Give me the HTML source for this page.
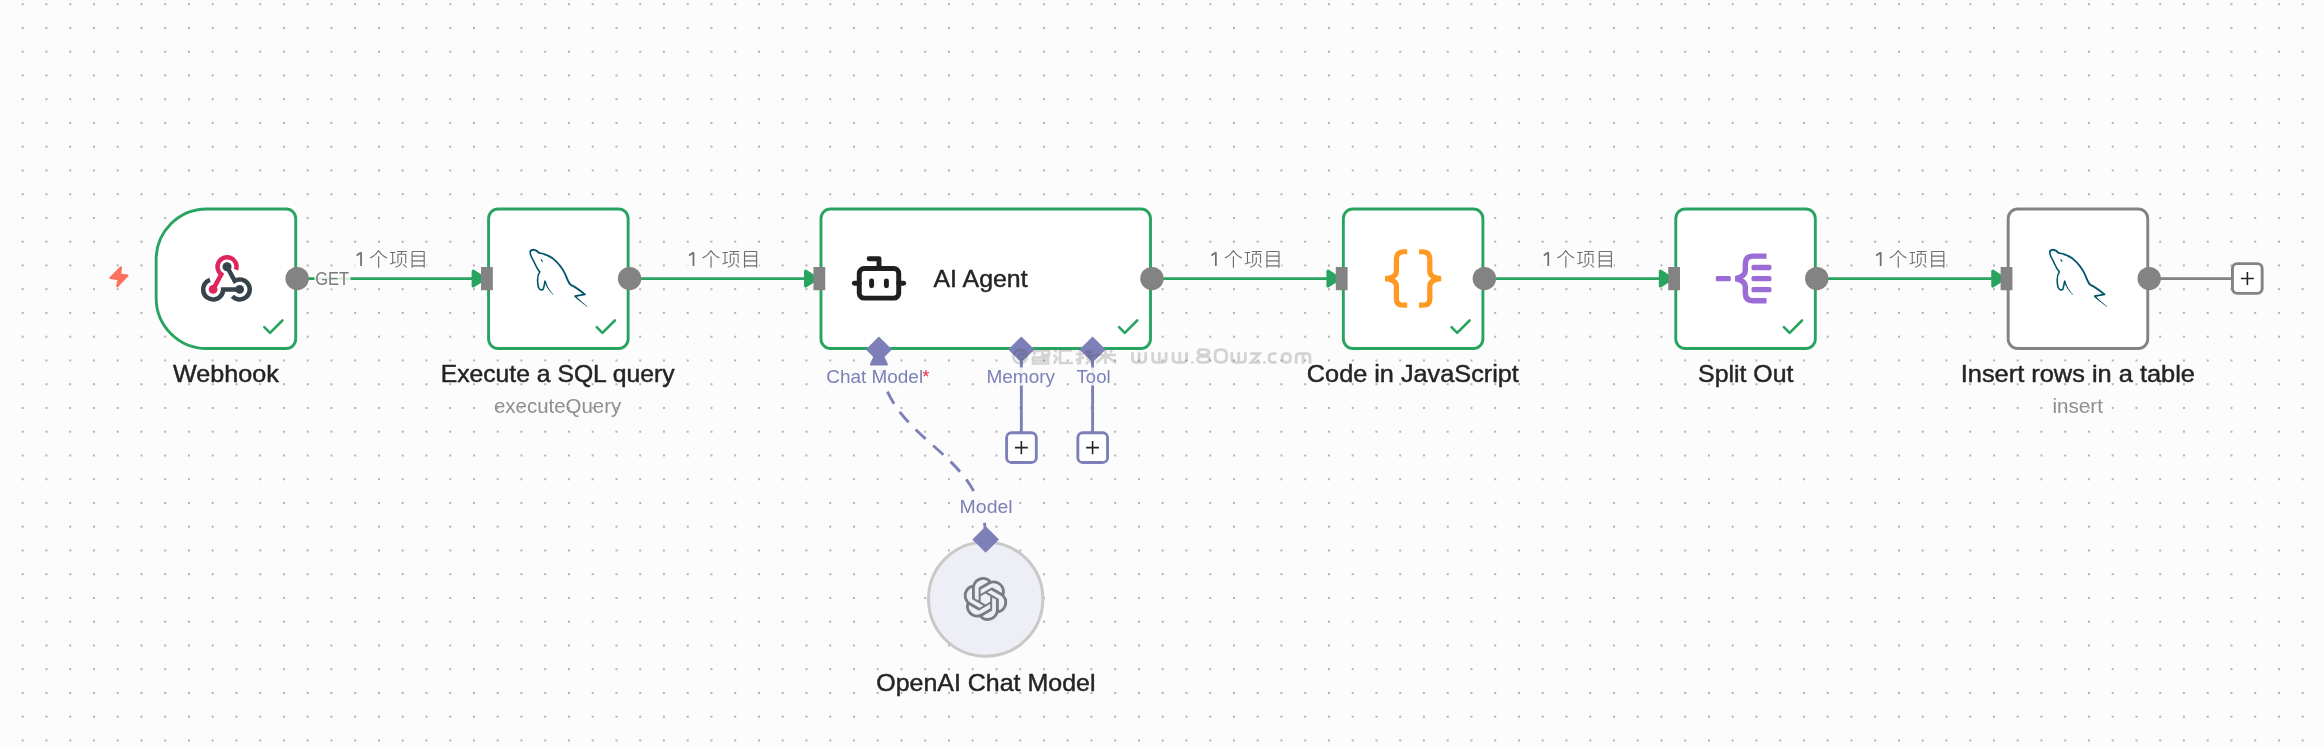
<!DOCTYPE html>
<html><head><meta charset="utf-8"><style>
html,body{margin:0;padding:0;background:#fcfcfc;width:2324px;height:746px;overflow:hidden}
svg text{font-family:"Liberation Sans",sans-serif;opacity:0.999}
</style></head><body>
<svg xmlns="http://www.w3.org/2000/svg" width="2324" height="746" viewBox="0 0 2324 746" style="position:absolute;left:0;top:0;will-change:transform;font-family:'Liberation Sans',sans-serif">
<defs>
<pattern id="dots" x="10.825" y="-7.675" width="23.75" height="23.75" patternUnits="userSpaceOnUse">
<circle cx="11.875" cy="11.875" r="1.0" fill="#999999"/>
</pattern>
</defs>
<rect x="0" y="0" width="2324" height="746" fill="url(#dots)"/>
<line x1="297.16" y1="278.6" x2="475.12" y2="278.6" stroke="#29a360" stroke-width="2.8"/>
<path d="M473.22,271.20 L484.62,278.6 L473.22,286.00 Z" fill="#29a360" stroke="#29a360" stroke-width="3.2" stroke-linejoin="round"/>
<line x1="629.58" y1="278.6" x2="807.53" y2="278.6" stroke="#29a360" stroke-width="2.8"/>
<path d="M805.63,271.20 L817.03,278.6 L805.63,286.00 Z" fill="#29a360" stroke="#29a360" stroke-width="3.2" stroke-linejoin="round"/>
<line x1="1151.95" y1="278.6" x2="1329.90" y2="278.6" stroke="#29a360" stroke-width="2.8"/>
<path d="M1328.00,271.20 L1339.40,278.6 L1328.00,286.00 Z" fill="#29a360" stroke="#29a360" stroke-width="3.2" stroke-linejoin="round"/>
<line x1="1484.36" y1="278.6" x2="1662.32" y2="278.6" stroke="#29a360" stroke-width="2.8"/>
<path d="M1660.42,271.20 L1671.82,278.6 L1660.42,286.00 Z" fill="#29a360" stroke="#29a360" stroke-width="3.2" stroke-linejoin="round"/>
<line x1="1816.78" y1="278.6" x2="1994.73" y2="278.6" stroke="#29a360" stroke-width="2.8"/>
<path d="M1992.83,271.20 L2004.23,278.6 L1992.83,286.00 Z" fill="#29a360" stroke="#29a360" stroke-width="3.2" stroke-linejoin="round"/>
<line x1="2149.20" y1="278.6" x2="2232" y2="278.6" stroke="#838383" stroke-width="2.8"/>
<rect x="2232.45" y="263.65" width="29.70" height="29.70" rx="4.8" fill="#fff" stroke="#838383" stroke-width="2.9"/>
<path d="M2240.90,278.50 H2253.90 M2247.4,272.00 V285.00" stroke="#242424" stroke-width="1.6"/>
<path d="M206.70,208.95 H286.16 A9.55,9.55 0 0 1 295.71,218.50 V339.00 A9.55,9.55 0 0 1 286.16,348.55 H206.70 A50.55,50.55 0 0 1 156.15,298.00 V259.50 A50.55,50.55 0 0 1 206.70,208.95 Z" fill="#fff" stroke="#29a360" stroke-width="2.9"/>
<rect x="488.57" y="208.95" width="139.56" height="139.60" rx="9.55" fill="#fff" stroke="#29a360" stroke-width="2.9"/>
<rect x="820.98" y="208.95" width="329.52" height="139.60" rx="9.55" fill="#fff" stroke="#29a360" stroke-width="2.9"/>
<rect x="1343.35" y="208.95" width="139.56" height="139.60" rx="9.55" fill="#fff" stroke="#29a360" stroke-width="2.9"/>
<rect x="1675.77" y="208.95" width="139.56" height="139.60" rx="9.55" fill="#fff" stroke="#29a360" stroke-width="2.9"/>
<rect x="2008.18" y="208.95" width="139.56" height="139.60" rx="9.55" fill="#fff" stroke="#838383" stroke-width="2.9"/>
<path d="M264.30,327.2 L270.00,332.9 L282.40,320.5" fill="none" stroke="#29a360" stroke-width="2.6" stroke-linecap="round" stroke-linejoin="round"/>
<path d="M596.72,327.2 L602.42,332.9 L614.82,320.5" fill="none" stroke="#29a360" stroke-width="2.6" stroke-linecap="round" stroke-linejoin="round"/>
<path d="M1119.09,327.2 L1124.79,332.9 L1137.19,320.5" fill="none" stroke="#29a360" stroke-width="2.6" stroke-linecap="round" stroke-linejoin="round"/>
<path d="M1451.50,327.2 L1457.20,332.9 L1469.60,320.5" fill="none" stroke="#29a360" stroke-width="2.6" stroke-linecap="round" stroke-linejoin="round"/>
<path d="M1783.92,327.2 L1789.62,332.9 L1802.02,320.5" fill="none" stroke="#29a360" stroke-width="2.6" stroke-linecap="round" stroke-linejoin="round"/>
<circle cx="297.16" cy="278.6" r="11.7" fill="#838383"/>
<circle cx="629.58" cy="278.6" r="11.7" fill="#838383"/>
<circle cx="1151.95" cy="278.6" r="11.7" fill="#838383"/>
<circle cx="1484.36" cy="278.6" r="11.7" fill="#838383"/>
<circle cx="1816.78" cy="278.6" r="11.7" fill="#838383"/>
<circle cx="2149.20" cy="278.6" r="11.7" fill="#838383"/>
<rect x="481.02" y="267.00" width="11.8" height="23.2" fill="#838383"/>
<rect x="813.43" y="267.00" width="11.8" height="23.2" fill="#838383"/>
<rect x="1335.80" y="267.00" width="11.8" height="23.2" fill="#838383"/>
<rect x="1668.22" y="267.00" width="11.8" height="23.2" fill="#838383"/>
<rect x="2000.63" y="267.00" width="11.8" height="23.2" fill="#838383"/>
<g transform="translate(350.00,244)"><g id="lbl">
<rect x="4.5" y="4.8" width="72" height="19.6" fill="#fcfcfc" fill-opacity="0.9"/>
<path d="M6.6,11.5 L11.0,8.5 M11.05,8.3 V21.9" fill="none" stroke="#6f6f6f" stroke-width="1.75"/>
<path d="M28.55,6.5 Q25.5,11.6 20.2,13.9 M28.55,6.5 Q31.6,11.6 36.9,13.9 M28.63,12.2 V23.8" fill="none" stroke="#6f6f6f" stroke-width="1.15"/>
<path d="M40.0,8.5 H45.4 M42.66,8.5 V19.3 M40.0,20.0 L45.7,18.3 M47.0,7.45 H56.9 M51.8,7.5 L51.1,10.1 M47.9,10.1 V19.3 M55.7,10.1 V19.3 M47.9,10.3 H55.7 M51.5,13.3 V18.2 Q50.6,21.9 45.4,23.3 M53.3,20.3 L56.7,23.3" fill="none" stroke="#6f6f6f" stroke-width="1.1"/>
<path d="M62.1,7.4 V23.8 M74.2,7.4 V23.8 M62.1,7.45 H74.2 M62.1,12.06 H74.2 M62.1,16.9 H74.2 M62.1,21.9 H74.2" fill="none" stroke="#6f6f6f" stroke-width="1.15"/>
</g></g>
<use href="#lbl" transform="translate(682.42,244)"/>
<use href="#lbl" transform="translate(1204.79,244)"/>
<use href="#lbl" transform="translate(1537.20,244)"/>
<use href="#lbl" transform="translate(1869.62,244)"/>
<rect x="314.5" y="268.5" width="36" height="20" fill="#fcfcfc" fill-opacity="0.85"/>
<path d="M985.7,540.0 C985.7,444.75 878.89,444.75 878.89,349.5" fill="none" stroke="#7d80b8" stroke-width="2.9" stroke-dasharray="13.8 9.95" stroke-dashoffset="-3.4"/>
<path d="M870.89,364.5 L878.89,347 L886.89,364.5 Z" fill="#7d80b8" stroke="#7d80b8" stroke-width="2" stroke-linejoin="round"/>
<line x1="1021.36" y1="349.5" x2="1021.36" y2="433" stroke="#7d80b8" stroke-width="2.9"/>
<rect x="1006.61" y="432.75" width="29.70" height="29.70" rx="4.8" fill="#fff" stroke="#7d80b8" stroke-width="2.9"/>
<path d="M1014.96,447.6 H1027.76 M1021.36,441.1 V454.2" stroke="#242424" stroke-width="1.6"/>
<line x1="1092.59" y1="349.5" x2="1092.59" y2="433" stroke="#7d80b8" stroke-width="2.9"/>
<rect x="1077.84" y="432.75" width="29.70" height="29.70" rx="4.8" fill="#fff" stroke="#7d80b8" stroke-width="2.9"/>
<path d="M1086.19,447.6 H1098.99 M1092.59,441.1 V454.2" stroke="#242424" stroke-width="1.6"/>
<rect x="825" y="367.5" width="107" height="18" fill="#fcfcfc" fill-opacity="0.88"/>
<rect x="985.5" y="367.5" width="72" height="18" fill="#fcfcfc" fill-opacity="0.88"/>
<rect x="1074.5" y="367.5" width="37" height="18" fill="#fcfcfc" fill-opacity="0.88"/>
<rect x="958.5" y="497" width="55" height="19.5" fill="#fcfcfc" fill-opacity="0.9"/>
<path d="M878.89,336.40 L891.99,349.50 L878.89,362.60 L865.79,349.50 Z" fill="#7d80b8"/>
<path d="M1021.36,336.40 L1034.46,349.50 L1021.36,362.60 L1008.26,349.50 Z" fill="#7d80b8"/>
<path d="M1092.59,336.40 L1105.69,349.50 L1092.59,362.60 L1079.49,349.50 Z" fill="#7d80b8"/>
<circle cx="985.7" cy="599.1" r="57.20" fill="#eeeff6" stroke="#c9c9c9" stroke-width="3"/>
<path d="M985.70,526.20 L999.00,539.50 L985.70,552.80 L972.40,539.50 Z" fill="#7d80b8"/>
<path d="M121.0,267.4 L110.4,278.0 L118.6,279.1 L117.3,286.3 L127.5,275.5 L120.1,274.5 Z" fill="#ff705e" stroke="#ff705e" stroke-width="2.2" stroke-linejoin="round"/>
<svg x="190" y="245" width="70" height="65" viewBox="0 0 803 746" overflow="visible">
<path d="M229.5,400.6 A115,115 0 1 0 380.0,510.0 L570,510" fill="none" stroke="#36434b" stroke-width="52"/>
<path d="M425,250 L512.5,410.4 A115,115 0 1 1 485.9,588.4" fill="none" stroke="#36434b" stroke-width="52"/>
<circle cx="425" cy="250" r="52" fill="#36434b"/>
<circle cx="570" cy="510" r="50" fill="#36434b"/>
<path d="M265,510 L358.8,337.8 A110,110 0 1 1 529.6,284.0" fill="none" stroke="#e0245e" stroke-width="52"/>
<circle cx="265" cy="510" r="50" fill="#e0245e"/>
</svg>
<svg x="523.82" y="244.00" width="70" height="66" viewBox="0 0 791 746" overflow="visible">
<g fill="none" stroke="#00546b" stroke-linecap="round" stroke-linejoin="round">
<path d="M75,80 C95,55 140,62 170,100 C210,105 270,120 330,165 C390,215 440,280 470,345 C490,395 505,440 530,462 C570,480 630,520 690,570 L580,590" stroke-width="21"/>
<path d="M75,80 C62,110 85,150 110,190 C130,230 145,280 180,315 C155,350 150,420 165,490 C175,520 205,525 220,510 C230,480 232,450 240,420" stroke-width="18"/>
<path d="M196,176 L210,196" stroke-width="12"/>
</g><path d="M572.8,596.2 L579.3,602.8 L586.2,609.4 L593.7,616.1 L601.5,622.9 L609.8,629.7 L618.4,636.6 L627.3,643.6 L636.6,650.6 L646.1,657.8 L655.8,665.0 L665.6,672.3 L675.7,679.7 L685.8,687.1 L696.0,694.7 L706.2,702.3 L716.4,709.9 L719.6,706.1 L709.9,697.7 L700.2,689.4 L690.5,681.2 L680.9,673.0 L671.5,665.0 L662.2,657.0 L653.0,649.1 L644.2,641.4 L635.6,633.7 L627.3,626.2 L619.5,618.7 L612.0,611.4 L605.0,604.3 L598.5,597.3 L592.6,590.5 L587.2,583.8ZM231.4,422.6 L234.7,432.0 L238.4,441.5 L242.3,451.0 L246.6,460.4 L251.1,469.9 L256.1,479.3 L261.4,488.8 L267.2,498.2 L273.4,507.7 L280.0,517.1 L287.2,526.6 L294.8,536.0 L303.0,545.5 L311.8,554.9 L321.1,564.4 L331.1,574.0 L334.9,570.0 L325.7,560.1 L317.0,550.2 L309.0,540.4 L301.6,530.7 L294.8,521.0 L288.5,511.4 L282.6,501.8 L277.3,492.3 L272.5,482.8 L268.0,473.4 L263.9,464.0 L260.3,454.6 L256.9,445.3 L253.9,436.0 L251.1,426.7 L248.6,417.4Z" fill="#00546b"/></svg>
<svg x="2043.43" y="244.00" width="70" height="66" viewBox="0 0 791 746" overflow="visible">
<g fill="none" stroke="#00546b" stroke-linecap="round" stroke-linejoin="round">
<path d="M75,80 C95,55 140,62 170,100 C210,105 270,120 330,165 C390,215 440,280 470,345 C490,395 505,440 530,462 C570,480 630,520 690,570 L580,590" stroke-width="21"/>
<path d="M75,80 C62,110 85,150 110,190 C130,230 145,280 180,315 C155,350 150,420 165,490 C175,520 205,525 220,510 C230,480 232,450 240,420" stroke-width="18"/>
<path d="M196,176 L210,196" stroke-width="12"/>
</g><path d="M572.8,596.2 L579.3,602.8 L586.2,609.4 L593.7,616.1 L601.5,622.9 L609.8,629.7 L618.4,636.6 L627.3,643.6 L636.6,650.6 L646.1,657.8 L655.8,665.0 L665.6,672.3 L675.7,679.7 L685.8,687.1 L696.0,694.7 L706.2,702.3 L716.4,709.9 L719.6,706.1 L709.9,697.7 L700.2,689.4 L690.5,681.2 L680.9,673.0 L671.5,665.0 L662.2,657.0 L653.0,649.1 L644.2,641.4 L635.6,633.7 L627.3,626.2 L619.5,618.7 L612.0,611.4 L605.0,604.3 L598.5,597.3 L592.6,590.5 L587.2,583.8ZM231.4,422.6 L234.7,432.0 L238.4,441.5 L242.3,451.0 L246.6,460.4 L251.1,469.9 L256.1,479.3 L261.4,488.8 L267.2,498.2 L273.4,507.7 L280.0,517.1 L287.2,526.6 L294.8,536.0 L303.0,545.5 L311.8,554.9 L321.1,564.4 L331.1,574.0 L334.9,570.0 L325.7,560.1 L317.0,550.2 L309.0,540.4 L301.6,530.7 L294.8,521.0 L288.5,511.4 L282.6,501.8 L277.3,492.3 L272.5,482.8 L268.0,473.4 L263.9,464.0 L260.3,454.6 L256.9,445.3 L253.9,436.0 L251.1,426.7 L248.6,417.4Z" fill="#00546b"/></svg>
<svg x="849.40" y="248.80" width="59.2" height="59.2" viewBox="0 0 24 24" fill="none" stroke="#1f1f1f" stroke-width="2" stroke-linecap="round" stroke-linejoin="round">
<path d="M12 8V4H8"/><rect width="16" height="12" x="4" y="8" rx="2"/><path d="M2 14h2"/><path d="M20 14h2"/><path d="M15 13v2"/><path d="M9 13v2"/></svg>
<svg x="1379.80" y="245" width="66" height="67" viewBox="0 0 735 746" overflow="visible">
<g fill="none" stroke="#ff9922" stroke-width="58" stroke-linecap="butt" stroke-linejoin="bevel">
<path d="M305,75 H265 Q185,75 185,160 V290 C185,340 140,368 60,375 C140,382 185,410 185,460 V600 Q185,670 265,670 H305"/>
<path d="M437,75 H477 Q557,75 557,160 V290 C557,340 602,368 682,375 C602,382 557,410 557,460 V600 Q557,670 477,670 H437"/>
</g></svg>
<g transform="translate(-0.48,0)">
<rect x="1716.3" y="275.9" width="15" height="5.4" rx="1.6" fill="#9b6bd6"/>
<rect x="1752.0" y="264.8" width="19.9" height="5.4" rx="1.6" fill="#9b6bd6"/>
<rect x="1752.0" y="275.9" width="19.9" height="5.4" rx="1.6" fill="#9b6bd6"/>
<rect x="1752.0" y="286.9" width="19.9" height="5.4" rx="1.6" fill="#9b6bd6"/>
<path d="M1767,256.1 H1753.5 Q1745.8,256.1 1745.8,264 V270.5 Q1745.8,276.6 1736.0,278.6 Q1745.8,280.6 1745.8,286.7 V293 Q1745.8,300.8 1753.5,300.8 H1767" fill="none" stroke="#9b6bd6" stroke-width="5.4" stroke-linejoin="bevel"/>
</g>
<svg x="963.40" y="577.00" width="44" height="44" viewBox="0 0 24 24"><path fill="#7a7b82" d="M22.2819 9.8211a5.9847 5.9847 0 0 0-.5157-4.9108 6.0462 6.0462 0 0 0-6.5098-2.9A6.0651 6.0651 0 0 0 4.9807 4.1818a5.9847 5.9847 0 0 0-3.9977 2.9 6.0462 6.0462 0 0 0 .7427 7.0966 5.98 5.98 0 0 0 .511 4.9107 6.051 6.051 0 0 0 6.5146 2.9001A5.9847 5.9847 0 0 0 13.2599 24a6.0557 6.0557 0 0 0 5.7718-4.2058 5.9894 5.9894 0 0 0 3.9977-2.9001 6.0557 6.0557 0 0 0-.7475-7.0729zm-9.022 12.6081a4.4755 4.4755 0 0 1-2.8764-1.0408l.1419-.0804 4.7783-2.7582a.7948.7948 0 0 0 .3927-.6813v-6.7369l2.02 1.1686a.071.071 0 0 1 .038.052v5.5826a4.504 4.504 0 0 1-4.4945 4.4944zm-9.6607-4.1254a4.4708 4.4708 0 0 1-.5346-3.0137l.142.0852 4.783 2.7582a.7712.7712 0 0 0 .7806 0l5.8428-3.3685v2.3324a.0804.0804 0 0 1-.0332.0615L9.74 19.9502a4.4992 4.4992 0 0 1-6.1408-1.6464zM2.3408 7.8956a4.485 4.485 0 0 1 2.3655-1.9728V11.6a.7664.7664 0 0 0 .3879.6765l5.8144 3.3543-2.0201 1.1685a.0757.0757 0 0 1-.071 0l-4.8303-2.7865A4.504 4.504 0 0 1 2.3408 7.872zm16.5963 3.8558L13.1038 8.364 15.1192 7.2a.0757.0757 0 0 1 .071 0l4.8303 2.7913a4.4944 4.4944 0 0 1-.6765 8.1042v-5.6772a.79.79 0 0 0-.407-.667zm2.0107-3.0231l-.142-.0852-4.7735-2.7818a.7759.7759 0 0 0-.7854 0L9.409 9.2297V6.8974a.0662.0662 0 0 1 .0284-.0615l4.8303-2.7866a4.4992 4.4992 0 0 1 6.6802 4.66zM8.3065 12.863l-2.02-1.1638a.0804.0804 0 0 1-.038-.0567V6.0742a4.4992 4.4992 0 0 1 7.3757-3.4537l-.142.0805L8.704 5.459a.7948.7948 0 0 0-.3927.6813zm1.0976-2.3654l2.602-1.4998 2.6069 1.4998v2.9994l-2.5974 1.4997-2.6067-1.4997Z"/></svg>
<text transform="translate(173.00,381.80) scale(1.0469,1)" font-size="24.02" fill="#242424" font-weight="normal" stroke="#242424" stroke-width="0.45" stroke-linejoin="round">Webhook</text>
<text transform="translate(440.65,381.90) scale(1.0476,1)" font-size="23.60" fill="#242424" font-weight="normal" stroke="#242424" stroke-width="0.45" stroke-linejoin="round">Execute a SQL query</text>
<text transform="translate(494.00,413.00) scale(1.0458,1)" font-size="19.55" fill="#8f8f8f" font-weight="normal">executeQuery</text>
<text transform="translate(933.50,287.10) scale(1.0307,1)" font-size="24.16" fill="#242424" font-weight="normal" stroke="#242424" stroke-width="0.45" stroke-linejoin="round">AI Agent</text>
<text transform="translate(1306.85,381.70) scale(1.0523,1)" font-size="24.02" fill="#242424" font-weight="normal" stroke="#242424" stroke-width="0.45" stroke-linejoin="round">Code in JavaScript</text>
<text transform="translate(1698.07,381.80) scale(1.0347,1)" font-size="24.02" fill="#242424" font-weight="normal" stroke="#242424" stroke-width="0.45" stroke-linejoin="round">Split Out</text>
<text transform="translate(1960.73,381.90) scale(1.0827,1)" font-size="23.46" fill="#242424" font-weight="normal" stroke="#242424" stroke-width="0.45" stroke-linejoin="round">Insert rows in a table</text>
<text transform="translate(2052.44,413.00) scale(1.0556,1)" font-size="19.55" fill="#8f8f8f" font-weight="normal">insert</text>
<text transform="translate(876.28,691.00) scale(1.0155,1)" font-size="24.58" fill="#242424" font-weight="normal" stroke="#242424" stroke-width="0.45" stroke-linejoin="round">OpenAI Chat Model</text>
<text transform="translate(826.20,382.90) scale(1.0289,1)" font-size="18.44" fill="#7d80b8" font-weight="normal">Chat Model</text>
<text transform="translate(986.44,383.10) scale(1.0562,1)" font-size="18.02" fill="#7d80b8" font-weight="normal">Memory</text>
<text transform="translate(1076.60,383.10) scale(1.0275,1)" font-size="18.02" fill="#7d80b8" font-weight="normal">Tool</text>
<text transform="translate(959.62,512.90) scale(1.0802,1)" font-size="18.02" fill="#7d80b8" font-weight="normal">Model</text>
<text transform="translate(315.20,284.90) scale(0.9184,1)" font-size="17.88" fill="#7a7a7a" font-weight="normal">GET</text>
<text x="922.6" y="382.90" font-size="17.5" fill="#e8243a" font-family="Liberation Sans">*</text>
<g fill="none" stroke="rgba(70,70,70,0.22)" stroke-width="2.6">
<circle cx="1020.1" cy="356.5" r="6.8"/>
<circle cx="1021" cy="356.5" r="2.6"/>
<path d="M1031.5,351 H1041 M1033,349.5 L1035,355 M1042.5,350.5 H1049 V355 H1042.5 Z M1033,357.5 H1048 V363.5 H1033 Z M1033,360.5 H1048"/>
<path d="M1054,350 L1057,352 M1053.5,355 L1056.5,357 M1054,363.5 L1057.5,357.5 M1072,350.5 H1060 V363 H1073"/>
<path d="M1076,354 H1084 M1080,349.5 V363 Q1080,364 1077,363 M1075.5,360.5 L1084,357 M1085,352 H1093 M1089,349.5 V355 M1085.5,356 H1092.5 L1086,364 M1087,358 L1093,364"/>
<path d="M1095,355 H1116 M1105.5,349.5 V364 M1104.5,356 L1096,363 M1106.5,356 L1116,363 M1110,350.5 L1112,352.5"/>
</g>
<path d="M1132.5,352.3 V359.1 Q1132.5,362.3 1135.7,362.3 H1142.5 Q1145.7,362.3 1145.7,359.1 V352.3 M1139.1,352.3 V362.3 M1152.6,352.3 V359.1 Q1152.6,362.3 1155.8,362.3 H1162.9 Q1166.1,362.3 1166.1,359.1 V352.3 M1159.3,352.3 V362.3 M1173.0,352.3 V359.1 Q1173.0,362.3 1176.2,362.3 H1183.4 Q1186.6,362.3 1186.6,359.1 V352.3 M1179.8,352.3 V362.3 M1201.2,349.6 H1205.8 Q1209.0,349.6 1209.0,352.8 V351.6 Q1209.0,354.8 1205.8,354.8 H1201.2 Q1198.0,354.8 1198.0,351.6 V352.8 Q1198.0,349.6 1201.2,349.6 Z M1201.1,356.4 H1205.9 Q1209.5,356.4 1209.5,360.0 V358.7 Q1209.5,362.3 1205.9,362.3 H1201.1 Q1197.5,362.3 1197.5,358.7 V360.0 Q1197.5,356.4 1201.1,356.4 Z M1220.1,349.6 H1221.6 Q1226.6,349.6 1226.6,354.6 V357.3 Q1226.6,362.3 1221.6,362.3 H1220.1 Q1215.1,362.3 1215.1,357.3 V354.6 Q1215.1,349.6 1220.1,349.6 Z M1231.9,352.3 V359.1 Q1231.9,362.3 1235.1,362.3 H1242.2 Q1245.4,362.3 1245.4,359.1 V352.3 M1238.7,352.3 V362.3 M1250.2,353.7 H1259.3 L1251.1,362.3 H1260.4 M1276.5,353.7 H1272.6 Q1269.1,353.7 1269.1,357.2 V358.8 Q1269.1,362.3 1272.6,362.3 H1276.5 M1285.7,353.7 H1286.9 Q1290.4,353.7 1290.4,357.2 V358.8 Q1290.4,362.3 1286.9,362.3 H1285.7 Q1282.2,362.3 1282.2,358.8 V357.2 Q1282.2,353.7 1285.7,353.7 Z M1296.1,363.7 V356.9 Q1296.1,353.7 1299.3,353.7 H1306.8 Q1310.0,353.7 1310.0,356.9 V363.7 M1303.1,353.7 V363.7" fill="none" stroke="rgba(70,70,70,0.22)" stroke-width="2.8"/><rect x="1191.2" y="361.2" width="2.5" height="2.5" fill="rgba(70,70,70,0.22)"/><rect x="1263.2" y="361.2" width="2.5" height="2.5" fill="rgba(70,70,70,0.22)"/>
</svg>
</body></html>
